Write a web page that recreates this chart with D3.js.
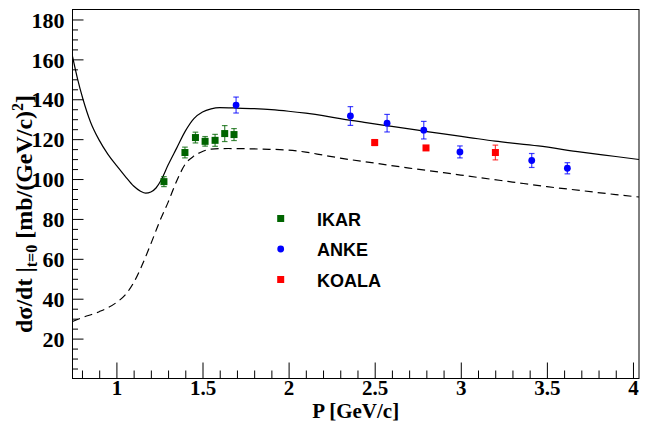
<!DOCTYPE html>
<html>
<head>
<meta charset="utf-8">
<script src="https://cdn.jsdelivr.net/npm/d3@7"></script>
<style>
  body { margin: 0; background: #fff; }
  svg { display: block; }
</style>
</head>
<body>
<svg id="chart" width="647" height="423"></svg>
<script>
// Axis ticks and labels
const xMajorTicks = [1, 1.5, 2, 2.5, 3, 3.5, 4];
const xTickLabels = ["1", "1.5", "2", "2.5", "3", "3.5", "4"];
const yMajorTicks = [20, 40, 60, 80, 100, 120, 140, 160, 180];
const yTickLabels = ["20", "40", "60", "80", "100", "120", "140", "160", "180"];

// Calculated curve (solid)
const solidP = [0.745, 0.775, 0.806, 0.85, 0.90, 0.95, 1.00, 1.05, 1.10, 1.14, 1.17, 1.20, 1.23, 1.26, 1.30, 1.35, 1.40, 1.45, 1.50, 1.55, 1.60, 1.70, 1.80, 1.90, 2.00, 2.10, 2.20, 2.30, 2.45, 2.60, 2.75, 2.90, 3.05, 3.20, 3.45, 3.70, 3.90, 4.035];
const solidVal = [161.5, 150, 140, 128.5, 119.5, 112.5, 106.8, 101.5, 96.5, 93.9, 92.9, 93.5, 95.5, 99.5, 107, 115.5, 124, 130.3, 133.6, 135.2, 135.8, 135.6, 135.3, 134.8, 134, 133, 131.8, 130.3, 128.3, 126.4, 124.5, 122.6, 120.8, 119.0, 116.6, 113.5, 111.3, 109.8];

// Calculated curve (dashed)
const dashedP = [0.745, 0.80, 0.90, 1.00, 1.05, 1.10, 1.15, 1.20, 1.25, 1.30, 1.35, 1.40, 1.45, 1.50, 1.55, 1.65, 1.75, 1.85, 2.00, 2.10, 2.20, 2.30, 2.50, 2.70, 2.90, 3.10, 3.30, 3.50, 3.70, 3.90, 4.035];
const dashedVal = [28.6, 30.5, 33.5, 38.1, 41.8, 48, 57, 67.5, 78.5, 88.3, 99, 107.5, 111.5, 113.8, 115, 115.3, 115.2, 115, 114.5, 113.5, 112, 110.5, 108, 105.5, 103.2, 100.8, 98.5, 96.2, 94.2, 92.2, 91];

// Measurements
const ikarP   = [1.276, 1.398, 1.459, 1.515, 1.573, 1.629, 1.683];
const ikarVal = [98.7, 113.3, 120.8, 118.9, 119.4, 122.8, 122.3];
const ikarErr = [2.5, 2.7, 2.7, 2.4, 3.0, 4.0, 3.0];

const ankeP   = [1.695, 2.359, 2.572, 2.785, 2.995, 3.412, 3.619];
const ankeVal = [137.1, 131.6, 128.0, 124.5, 113.6, 109.3, 105.4];
const ankeErr = [4.0, 4.7, 4.4, 4.4, 3.0, 3.5, 2.8];

const koalaP   = [2.500, 2.798, 3.201];
const koalaVal = [118.3, 115.6, 113.3];
const koalaErr = [1.5, 1.0, 3.7];

const legendNames = ["IKAR", "ANKE", "KOALA"];

// ---------------------------------------------------------------
const svg = d3.select("#chart");
const L = 72.5, R = 639, T = 9.5, B = 378.5;

const x = d3.scaleLinear().domain([0.745, 4.035]).range([L, R]);
const y = d3.scaleLinear().domain([0, 185]).range([B, T]);

const serif = "'Liberation Serif', 'Times New Roman', serif";
const sans = "'Liberation Sans', Arial, Helvetica, sans-serif";

svg.append("defs").append("clipPath").attr("id", "plotClip")
  .append("rect").attr("x", L).attr("y", T).attr("width", R - L).attr("height", B - T);

// Minor ticks
const xMinor = d3.range(8, 41).map(d => d / 10).filter(d => Math.abs(d * 2 - Math.round(d * 2)) > 1e-6);
const yMinor = d3.range(5, 185, 5).filter(d => d % 20 !== 0);

const gx = svg.append("g").attr("transform", `translate(0,${B})`);
gx.call(d3.axisBottom(x).tickValues(xMinor).tickSize(-8).tickFormat(""));
gx.call(g => g.selectAll(".domain").remove());
const gxMaj = svg.append("g").attr("transform", `translate(0,${B})`)
  .call(d3.axisBottom(x).tickValues(xMajorTicks).tickSize(-16)
    .tickFormat((d, i) => xTickLabels[i]));
gxMaj.select(".domain").remove();
gxMaj.selectAll("text").attr("font-family", serif).attr("font-weight", "bold")
  .attr("font-size", 21).attr("fill", "#000").attr("dy", 0).attr("y", 16);

const gy = svg.append("g").attr("transform", `translate(${L},0)`);
gy.call(d3.axisLeft(y).tickValues(yMinor).tickSize(-5.5).tickFormat(""));
gy.call(g => g.selectAll(".domain").remove());
const gyMaj = svg.append("g").attr("transform", `translate(${L},0)`)
  .call(d3.axisLeft(y).tickValues(yMajorTicks).tickSize(-11)
    .tickFormat((d, i) => yTickLabels[i]));
gyMaj.select(".domain").remove();
gyMaj.selectAll("text").attr("font-family", serif).attr("font-weight", "bold")
  .attr("font-size", 22).attr("fill", "#000").attr("x", -8).attr("dy", "0.35em");

svg.selectAll(".tick line").attr("stroke", "#000").attr("stroke-width", 1);

// Frame
svg.append("rect").attr("x", L).attr("y", T).attr("width", R - L).attr("height", B - T)
  .attr("fill", "none").attr("stroke", "#000").attr("stroke-width", 1);

// Curves
const line = d3.line().x(d => x(d[0])).y(d => y(d[1])).curve(d3.curveMonotoneX);
const plot = svg.append("g").attr("clip-path", "url(#plotClip)");
plot.append("path").datum(solidP.map((p, i) => [p, solidVal[i]]))
  .attr("d", line).attr("fill", "none").attr("stroke", "#000").attr("stroke-width", 1.2);
plot.append("path").datum(dashedP.map((p, i) => [p, dashedVal[i]]))
  .attr("d", line).attr("fill", "none").attr("stroke", "#000").attr("stroke-width", 1.2)
  .attr("stroke-dasharray", "8,5");

// Data points with error bars
function marker(g, cx, cy, color, shape) {
  if (shape === "circle") {
    g.append("circle").attr("cx", cx).attr("cy", cy).attr("r", 3.4).attr("fill", color);
  } else {
    g.append("rect").attr("x", cx - 3.5).attr("y", cy - 3.5).attr("width", 7).attr("height", 7).attr("fill", color);
  }
}
function drawSeries(ps, vals, errs, color, shape) {
  const g = svg.append("g");
  ps.forEach((p, i) => {
    const cx = x(p), lo = y(vals[i] - errs[i]), hi = y(vals[i] + errs[i]);
    g.append("line").attr("x1", cx).attr("x2", cx).attr("y1", lo).attr("y2", hi)
      .attr("stroke", color).attr("stroke-width", 1.2).attr("opacity", 0.75);
    [lo, hi].forEach(yy => g.append("line").attr("x1", cx - 2.8).attr("x2", cx + 2.8)
      .attr("y1", yy).attr("y2", yy).attr("stroke", color).attr("stroke-width", 1.2).attr("opacity", 0.75));
    marker(g, cx, y(vals[i]), color, shape);
  });
}
const colors = ["#006400", "#0000ff", "#ff0000"];
const shapes = ["square", "circle", "square"];
drawSeries(ikarP, ikarVal, ikarErr, colors[0], shapes[0]);
drawSeries(ankeP, ankeVal, ankeErr, colors[1], shapes[1]);
drawSeries(koalaP, koalaVal, koalaErr, colors[2], shapes[2]);

// Legend
const leg = svg.append("g");
legendNames.forEach((name, i) => {
  const yy = 218.5 + i * 30.5;
  marker(leg, 280.7, yy, colors[i], shapes[i]);
  leg.append("text").attr("x", 317).attr("y", yy + 7).text(name)
    .attr("font-family", sans).attr("font-weight", "bold").attr("font-size", 18).attr("fill", "#000");
});

// Axis titles
svg.append("text").attr("x", (L + R) / 2).attr("y", 418.2).attr("text-anchor", "middle")
  .attr("font-family", serif).attr("font-weight", "bold").attr("font-size", 21)
  .text("P [GeV/c]");

const yt = svg.append("text").attr("transform", "translate(32,333) rotate(-90)")
  .attr("font-family", serif).attr("font-weight", "bold").attr("font-size", 24);
yt.append("tspan").text("dσ/dt |");
yt.append("tspan").attr("font-size", 16).attr("dy", 5).text("t=0");
yt.append("tspan").attr("dy", -5).text(" [mb/(GeV/c)");
yt.append("tspan").attr("font-size", 16).attr("dy", -9).text("2");
yt.append("tspan").attr("dy", 9).text("]");
</script>
</body>
</html>
